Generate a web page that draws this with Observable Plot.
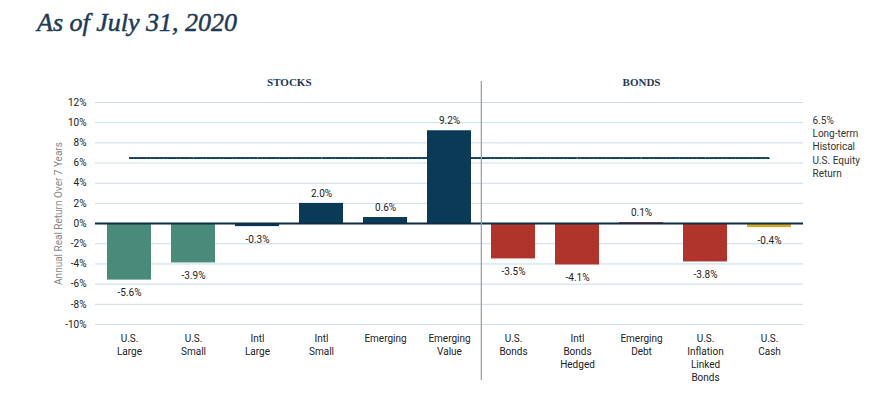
<!DOCTYPE html>
<html><head><meta charset="utf-8">
<script src="https://cdn.jsdelivr.net/npm/d3@7"></script>
<script src="https://cdn.jsdelivr.net/npm/@observablehq/plot@0.6"></script>
<style>
body{margin:0;background:#fff;}
#title{height:50px;box-sizing:border-box;padding:8px 0 0 37px;font:italic 26px "Liberation Serif",serif;color:#1d3a57;-webkit-text-stroke:0.5px #1d3a57;}
#chart svg{display:block;}
</style></head><body>
<div id="title">As of July 31, 2020</div>
<div id="chart"></div>
<script>
const categories = ["U.S.\nLarge","U.S.\nSmall","Intl\nLarge","Intl\nSmall","Emerging","Emerging\nValue","U.S.\nBonds","Intl\nBonds\nHedged","Emerging\nDebt","U.S.\nInflation\nLinked\nBonds","U.S.\nCash"];
const returns = [-5.6,-3.9,-0.3,2.0,0.6,9.2,-3.5,-4.1,0.1,-3.8,-0.4];
const assetGroup = ["US Stocks","US Stocks","Non-US Stocks","Non-US Stocks","Non-US Stocks","Non-US Stocks","Bonds","Bonds","Bonds","Bonds","Cash"];
const groups = ["US Stocks","Non-US Stocks","Bonds","Cash"];
const yTicks = [-10,-8,-6,-4,-2,0,2,4,6,8,10,12];
const histReturn = 6.5;
const sections = ["STOCKS","BONDS"];
const yLabel = "Annual Real Return Over 7 Years";

const W=888,H=347,mL=95,mR=85,mT=52,mB=73;
const pi=0.32, po=0.16;
const step=(W-mL-mR)/(categories.length - pi + 2*po);
const data = categories.map((c,i)=>({category:c, value:returns[i], group:assetGroup[i]}));
const navy = "#0b3a57";
const font = '"Liberation Sans Narrow","Roboto",sans-serif';

const chart = Plot.plot({
  width:W,height:H,marginLeft:mL,marginRight:mR,marginTop:mT,marginBottom:mB,
  style:{fontFamily:font,fontSize:"10px",color:"#222",background:"#fff",overflow:"visible"},
  x:{domain:categories,paddingInner:pi,paddingOuter:po,axis:null},
  y:{domain:[-10,12],axis:null},
  color:{domain:groups,range:["#4a8a78",navy,"#b0342c","#d6a62b"]},
  marks:[
    Plot.gridY(yTicks,{stroke:"#c8dde7",strokeOpacity:1}),
    Plot.axisY(yTicks,{tickSize:0,tickPadding:9,tickFormat:d=>d+"%",fontSize:10,fill:"#222",label:null}),
    Plot.axisX({tickSize:0,tickPadding:8,lineHeight:1.3,fontSize:10,fill:"#222",label:null}),
    Plot.lineY(categories,{x:d=>d,y:()=>histReturn,stroke:navy,strokeWidth:1,dy:0.5,strokeDasharray:"3.5,0.8"}),
    Plot.lineY(categories,{x:d=>d,y:()=>histReturn,stroke:navy,strokeWidth:1,dy:-0.5,strokeDasharray:"1,1"}),
    Plot.barY(data,{x:"category",y:"value",fill:"group"}),
    Plot.ruleY([0],{stroke:"#0d2d45",strokeWidth:2}),
    Plot.text(data.filter(d=>d.value>=0),{x:"category",y:"value",text:d=>d.value.toFixed(1)+"%",dy:-10,fill:"#222"}),
    Plot.text(data.filter(d=>d.value<0),{x:"category",y:"value",text:d=>d.value.toFixed(1)+"%",dy:13,fill:"#222"}),
    Plot.ruleX([categories[6]],{dx:-step/2,stroke:"#9a9a9a",strokeWidth:1.2,insetTop:-21,insetBottom:-56}),
    Plot.text([sections[0]],{x:()=>categories[3],frameAnchor:"top",dx:-step/2,dy:-24,fontFamily:'"Liberation Serif",serif',fontWeight:"bold",fontSize:11,fill:"#1d3a57"}),
    Plot.text([sections[1]],{x:()=>categories[8],frameAnchor:"top",dy:-24,fontFamily:'"Liberation Serif",serif',fontWeight:"bold",fontSize:11,fill:"#1d3a57"}),
    Plot.text([histReturn],{frameAnchor:"right",y:d=>d,text:d=>`${d}%\nLong-term\nHistorical\nU.S. Equity\nReturn`,textAnchor:"start",dx:9,dy:-12,lineHeight:1.33,fill:"#333"}),
    Plot.text([yLabel],{frameAnchor:"left",rotate:-90,dx:-37,textAnchor:"middle",fill:"#888"})
  ]
});
document.getElementById("chart").append(chart);
</script>
</body></html>
